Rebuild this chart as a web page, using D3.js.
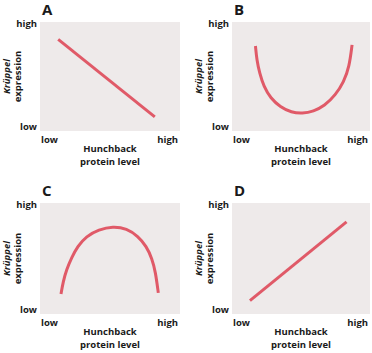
<!DOCTYPE html>
<html>
<head>
<meta charset="utf-8">
<script src="https://cdn.jsdelivr.net/npm/d3@7"></script>
<style>
  body { margin: 0; background: #fff; }
  text { font-family: "Open Sans", sans-serif; font-weight: bold; fill: #1a1a1a; }
</style>
</head>
<body>
<svg width="372" height="353"></svg>
<script>
// panel letters and axis labels
const panelLabels = ["A", "B", "C", "D"]
const xTickLabels = ["low", "high"]
const yTickLabels = ["low", "high"]
const xTitle = ["Hunchback", "protein level"]
const yTitle = ["Krüppel", "expression"]

// curves, [hunchback, krüppel] in 0..1
const curveA = [[0.13, 0.84], [0.82, 0.13]]
const curveB = [[0.17, 0.78], [0.18, 0.65], [0.20, 0.53], [0.23, 0.41], [0.28, 0.30],
                [0.35, 0.22], [0.43, 0.17], [0.51, 0.16], [0.59, 0.18], [0.67, 0.23],
                [0.75, 0.33], [0.81, 0.45], [0.85, 0.59], [0.87, 0.79]]
const curveC = [[0.15, 0.18], [0.165, 0.29], [0.19, 0.40], [0.226, 0.51], [0.27, 0.61],
                [0.33, 0.70], [0.42, 0.76], [0.52, 0.79], [0.62, 0.77], [0.70, 0.70],
                [0.76, 0.61], [0.80, 0.50], [0.825, 0.38], [0.845, 0.19]]
const curveD = [[0.13, 0.12], [0.83, 0.83]]

const curves = [curveA, curveB, curveC, curveD]

// plot boxes
const boxes = [
    {left: 40, right: 180, top: 22, bottom: 131},
    {left: 232, right: 370, top: 22, bottom: 131},
    {left: 40, right: 180, top: 203, bottom: 314},
    {left: 232, right: 370, top: 203, bottom: 314}
]

const svg = d3.select("svg")

boxes.forEach((b, i) => {
    const x = d3.scaleLinear().domain([0, 1]).range([b.left, b.right])
    const y = d3.scaleLinear().domain([0, 1]).range([b.bottom, b.top])
    const g = svg.append("g")

    g.append("rect")
        .attr("x", x(0))
        .attr("y", y(1))
        .attr("width", x(1) - x(0))
        .attr("height", y(0) - y(1))
        .style("fill", "#eeeaea")

    const line = d3.line()
        .x(d => x(d[0]))
        .y(d => y(d[1]))
        .curve(d3.curveBasis)

    g.append("path")
        .datum(curves[i])
        .attr("d", line)
        .style("fill", "none")
        .style("stroke", "#e05a68")
        .style("stroke-width", 3)

    // panel letter
    g.append("text")
        .attr("x", x(0) + 2)
        .attr("y", y(1) - 7)
        .style("font-size", "15px")
        .text(panelLabels[i])

    // y ticks
    g.append("text")
        .attr("x", x(0) - 3)
        .attr("y", y(1) + 5)
        .style("text-anchor", "end")
        .style("font-size", "9.5px")
        .text(yTickLabels[1])
    g.append("text")
        .attr("x", x(0) - 3)
        .attr("y", y(0) - 1)
        .style("text-anchor", "end")
        .style("font-size", "9.5px")
        .text(yTickLabels[0])

    // x ticks
    g.append("text")
        .attr("x", x(0) + 1)
        .attr("y", y(0) + 12)
        .style("font-size", "9.5px")
        .text(xTickLabels[0])
    g.append("text")
        .attr("x", x(1) - 2)
        .attr("y", y(0) + 12)
        .style("text-anchor", "end")
        .style("font-size", "9.5px")
        .text(xTickLabels[1])

    // x title
    xTitle.forEach((t, j) => {
        g.append("text")
            .attr("x", x(0.5))
            .attr("y", y(0) + 21 + j * 13)
            .style("text-anchor", "middle")
            .style("font-size", "9.5px")
            .text(t)
    })

    // y title
    yTitle.forEach((t, j) => {
        const tx = x(0) - 30 + j * 11
        const ty = y(0.5)
        g.append("text")
            .attr("transform", `translate(${tx}, ${ty}) rotate(-90)`)
            .style("text-anchor", "middle")
            .style("font-size", "9.5px")
            .style("font-style", j == 0 ? "italic" : "normal")
            .text(t)
    })
})
</script>
</body>
</html>
